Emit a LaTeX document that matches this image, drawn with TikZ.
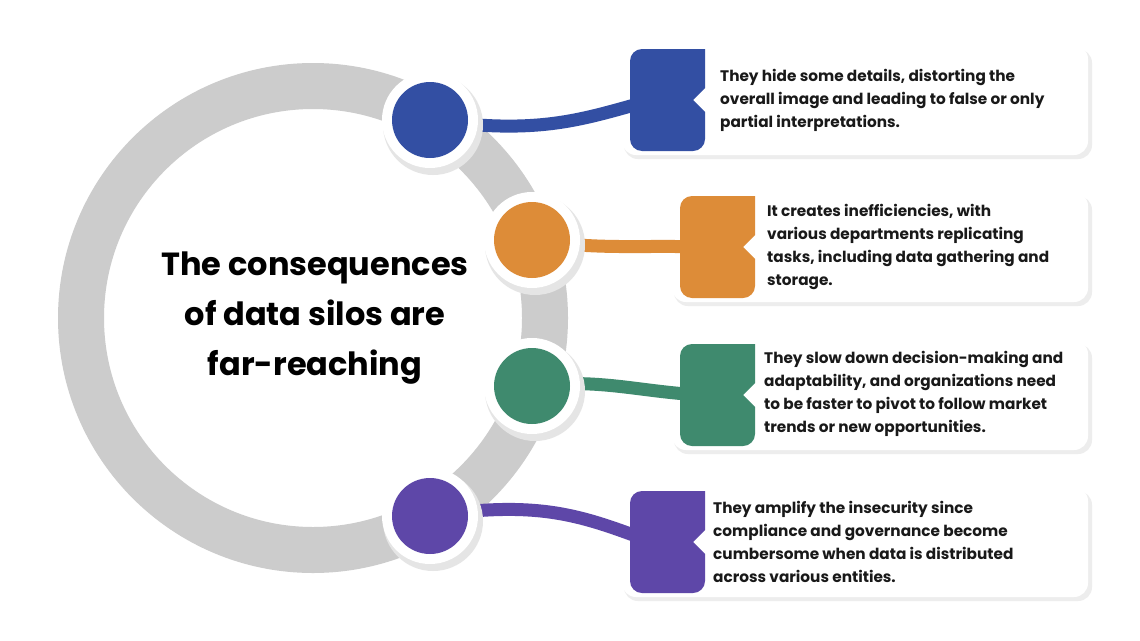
\documentclass[tikz,border=0pt]{standalone}
\usepackage{fontspec}
\setmainfont{Poppins}
\begin{document}
\begin{tikzpicture}[x=1pt,y=-1pt,
  card/.style={fill=white,rounded corners=14pt},
  shad/.style={fill=black!7,rounded corners=14pt},
  txt/.style={anchor=west,align=left,font=\fontsize{15.3}{23}\selectfont\bfseries,text=black!90,inner sep=0pt},
  conn/.style={line width=13pt}]
\definecolor{cb}{HTML}{334FA3}
\definecolor{co}{HTML}{DD8C38}
\definecolor{cg}{HTML}{3F8A6E}
\definecolor{cp}{HTML}{5E47A8}
\useasboundingbox (0,0) rectangle (1140,640);
\fill[white] (0,0) rectangle (1140,640);
% ring
\coordinate (rc) at (313,318);
\draw[black!20,line width=46pt] (rc) circle[radius=232];
% cards
\foreach \x/\y/\c [count=\i] in {622/45/cb,672/192/co,672/340/cg,622/487/cp}{
  \fill[shad] (\x+2,\y+4) rectangle (1092,\y+114);
  \fill[card] (\x,\y) rectangle (1088,\y+110);
  \coordinate (t\i) at (\x+30,\y+55);
}
% circles positions
\coordinate (c1) at (430,120);
\coordinate (c2) at (532,240);
\coordinate (c3) at (532,386);
\coordinate (c4) at (430,516);
\draw[conn,cb] (c1) .. controls (540,135) and (580,120) .. (t1);
\draw[conn,co] (c2) .. controls (600,250) and (640,245) .. (t2);
\draw[conn,cg] (c3) .. controls (600,378) and (640,392) .. (t3);
\draw[conn,cp] (c4) .. controls (540,500) and (580,515) .. (t4);
% tabs over connectors
\foreach \x/\y/\c [count=\i] in {622/45/cb,672/192/co,672/340/cg,622/487/cp}{
  \fill[\c] (\x+8,\y+4) [rounded corners=12pt] -- (\x+8,\y+106) -- (\x+83,\y+106)[sharp corners] -- (\x+83,\y+67) -- (\x+71,\y+55) -- (\x+83,\y+43) -- (\x+83,\y+4) [rounded corners=12pt]-- cycle;
}
\foreach \c/\col in {c1/cb,c2/co,c3/cg,c4/cp}{
  \fill[black!10] ([xshift=3pt,yshift=-5pt]\c) circle[radius=50];
  \fill[white] (\c) circle[radius=48];
  \fill[\col] (\c) circle[radius=38];
}
\node[font=\fontsize{32}{50}\selectfont\bfseries,align=center,text=black] (title) at (315,318) {The consequences\\of data silos are\\far-reaching};
\node[txt] (x1) at (720,100) {They hide some details, distorting the\\overall image and leading to false or only\\partial interpretations.};
\node[txt] (x2) at (767,247) {It creates inefficiencies, with\\various departments replicating\\tasks, including data gathering and\\storage.};
\node[txt] (x3) at (764,394) {They slow down decision-making and\\adaptability, and organizations need\\to be faster to pivot to follow market\\trends or new opportunities.};
\node[txt] (x4) at (713,542) {They amplify the insecurity since\\compliance and governance become\\cumbersome when data is distributed\\across various entities.};
\end{tikzpicture}
\end{document}
